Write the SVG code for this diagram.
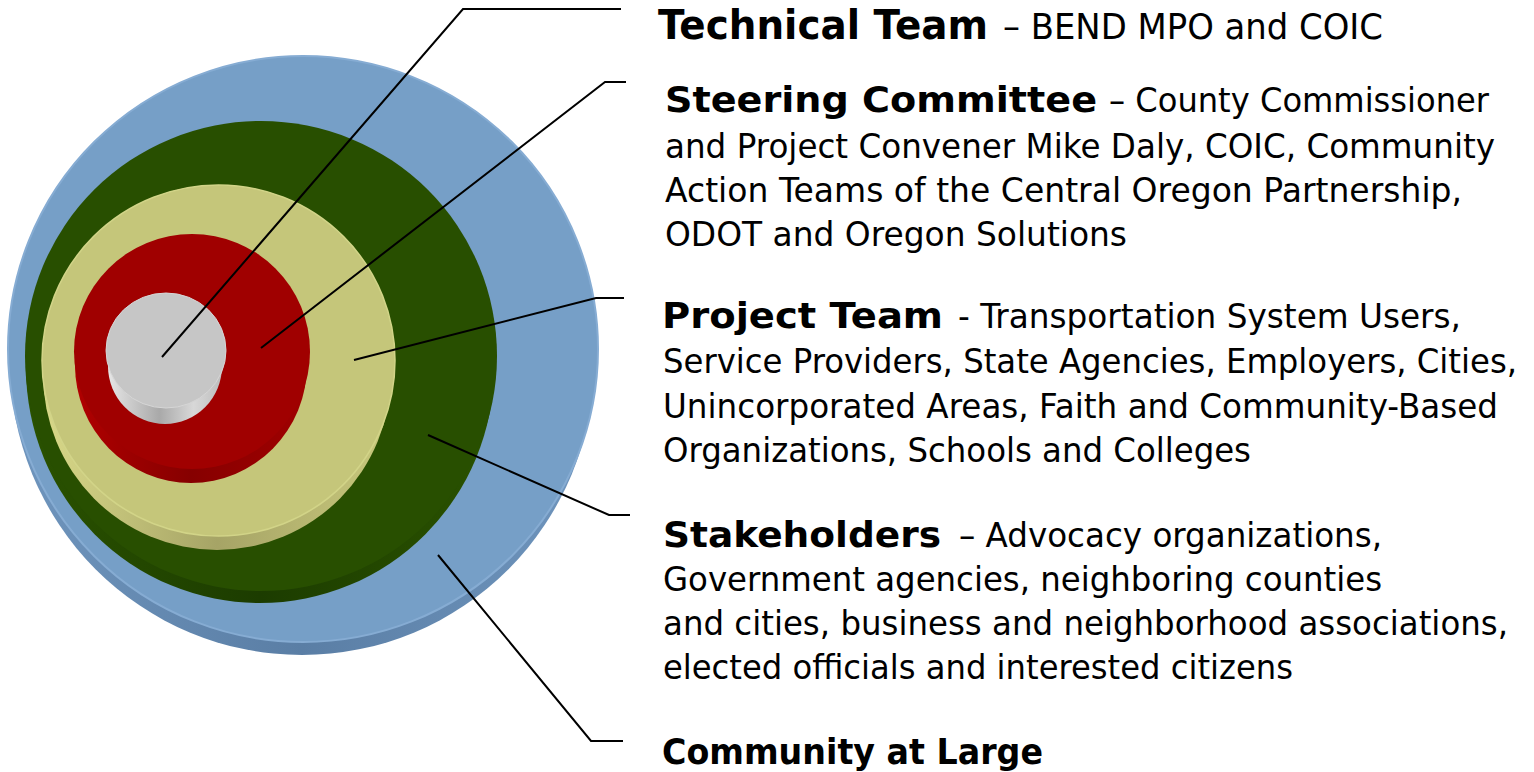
<svg xmlns="http://www.w3.org/2000/svg" width="1534" height="772" viewBox="0 0 1534 772">
  <style>
    .b { font-family: "DejaVu Sans", Verdana, sans-serif; font-weight: bold; fill: #000; }
    .r { font-family: "DejaVu Sans", Verdana, sans-serif; fill: #000; }
    .lead { fill: none; stroke: #000; stroke-width: 2; stroke-linejoin: miter; }
  </style>
  <defs>
    <linearGradient id="sideBlue" x1="0" y1="0" x2="1" y2="0">
      <stop offset="0" stop-color="#6f95bd"/><stop offset="0.5" stop-color="#5a7ea5"/><stop offset="1" stop-color="#6f95bd"/>
    </linearGradient>
    <linearGradient id="sideGreen" x1="0" y1="0" x2="1" y2="0">
      <stop offset="0" stop-color="#2a5200"/><stop offset="0.5" stop-color="#1c3c00"/><stop offset="1" stop-color="#2a5200"/>
    </linearGradient>
    <linearGradient id="sideYellow" x1="0" y1="0" x2="1" y2="0">
      <stop offset="0" stop-color="#d8d888"/><stop offset="0.5" stop-color="#a6a466"/><stop offset="1" stop-color="#c8c87c"/>
    </linearGradient>
    <linearGradient id="sideRed" x1="0" y1="0" x2="1" y2="0">
      <stop offset="0" stop-color="#b00000"/><stop offset="0.5" stop-color="#860000"/><stop offset="1" stop-color="#a00000"/>
    </linearGradient>
    <linearGradient id="sideGray" x1="0" y1="0" x2="1" y2="0">
      <stop offset="0" stop-color="#e6e6e6"/><stop offset="0.45" stop-color="#a9a9a9"/><stop offset="0.75" stop-color="#d8d8d8"/><stop offset="1" stop-color="#bdbdbd"/>
    </linearGradient>
  </defs>

  <g id="community-at-large">
    <ellipse cx="302" cy="362" rx="292" ry="293" fill="url(#sideBlue)"/>
    <ellipse cx="303" cy="349" rx="295" ry="293" fill="#769fc7" stroke="#86acd3" stroke-width="2"/>
    <text class="b" x="662" y="764" font-size="36" textLength="381" lengthAdjust="spacingAndGlyphs">Community at Large</text>
  </g>

  <g id="stakeholders">
    <ellipse cx="260" cy="368" rx="234" ry="235" fill="url(#sideGreen)"/>
    <ellipse cx="261" cy="356" rx="236" ry="235" fill="#284f00"/>
    <text class="b" x="663" y="547" font-size="36" textLength="278" lengthAdjust="spacingAndGlyphs">Stakeholders</text>
    <text class="r" x="959" y="547" font-size="33" textLength="423" lengthAdjust="spacingAndGlyphs">– Advocacy organizations,</text>
    <text class="r" x="663" y="591" font-size="33" textLength="719" lengthAdjust="spacingAndGlyphs">Government agencies, neighboring counties</text>
    <text class="r" x="663" y="635" font-size="33" textLength="845" lengthAdjust="spacingAndGlyphs">and cities, business and neighborhood associations,</text>
    <text class="r" x="663" y="679" font-size="33" textLength="630" lengthAdjust="spacingAndGlyphs">elected officials and interested citizens</text>
  </g>

  <g id="project-team">
    <ellipse cx="217" cy="374" rx="174" ry="176" fill="url(#sideYellow)"/>
    <ellipse cx="218.5" cy="360.5" rx="176.5" ry="175.5" fill="#c5c67a" stroke="#d2d488" stroke-width="1.5"/>
    <text class="b" x="662" y="328" font-size="36" textLength="281" lengthAdjust="spacingAndGlyphs">Project Team</text>
    <text class="r" x="958" y="328" font-size="33" textLength="503" lengthAdjust="spacingAndGlyphs">- Transportation System Users,</text>
    <text class="r" x="663" y="373" font-size="33" textLength="854" lengthAdjust="spacingAndGlyphs">Service Providers, State Agencies, Employers, Cities,</text>
    <text class="r" x="663" y="418" font-size="33" textLength="835" lengthAdjust="spacingAndGlyphs">Unincorporated Areas, Faith and Community-Based</text>
    <text class="r" x="663" y="462" font-size="33" textLength="588" lengthAdjust="spacingAndGlyphs">Organizations, Schools and Colleges</text>
  </g>

  <g id="steering-committee">
    <ellipse cx="191" cy="365" rx="116" ry="118" fill="url(#sideRed)"/>
    <ellipse cx="192" cy="351.5" rx="118" ry="117.5" fill="#a00000"/>
    <text class="b" x="665" y="112" font-size="36" textLength="432" lengthAdjust="spacingAndGlyphs">Steering Committee</text>
    <text class="r" x="1109" y="112" font-size="33" textLength="380" lengthAdjust="spacingAndGlyphs">– County Commissioner</text>
    <text class="r" x="665" y="158" font-size="33" textLength="830" lengthAdjust="spacingAndGlyphs">and Project Convener Mike Daly, COIC, Community</text>
    <text class="r" x="665" y="202" font-size="33" textLength="797" lengthAdjust="spacingAndGlyphs">Action Teams of the Central Oregon Partnership,</text>
    <text class="r" x="665" y="246" font-size="33" textLength="462" lengthAdjust="spacingAndGlyphs">ODOT and Oregon Solutions</text>
  </g>

  <g id="technical-team">
    <ellipse cx="165" cy="366" rx="57" ry="58" fill="url(#sideGray)"/>
    <ellipse cx="166" cy="350.5" rx="60" ry="57.5" fill="#c6c6c6" stroke="#d6d6d6" stroke-width="1"/>
    <text class="b" x="658" y="39" font-size="41" textLength="330" lengthAdjust="spacingAndGlyphs">Technical Team</text>
    <text class="r" x="1003" y="39" font-size="35" textLength="380" lengthAdjust="spacingAndGlyphs">– BEND MPO and COIC</text>
  </g>

  <g id="connectors">
    <polyline class="lead" points="162,357 463,9 621,9"/>
    <polyline class="lead" points="261,348 605,82 626,82"/>
    <polyline class="lead" points="354,360 596,298 624,298"/>
    <polyline class="lead" points="428,435 609,515 630,515"/>
    <polyline class="lead" points="438,555 591,741 623,741"/>
  </g>
</svg>
